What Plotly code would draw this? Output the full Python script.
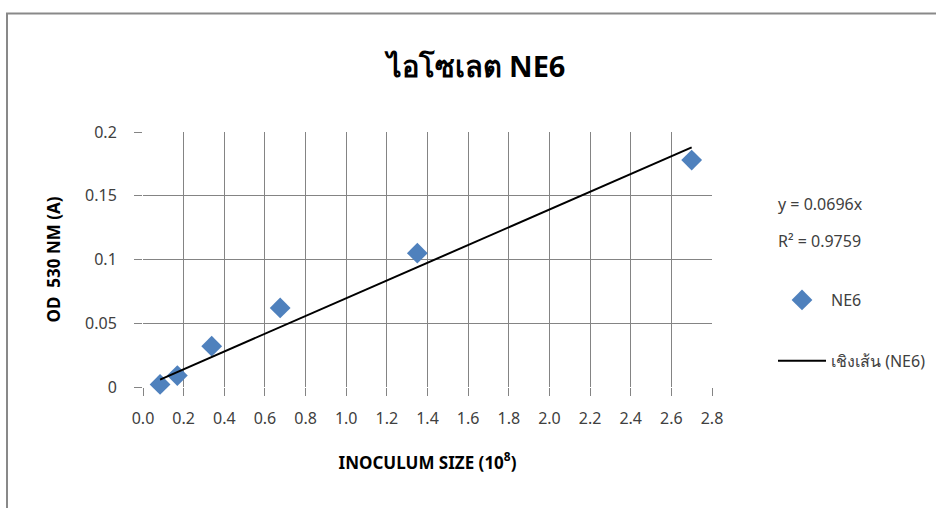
import numpy as np
import plotly.graph_objects as go

# Inoculum size (x 10^8 cells) and optical density at 530 nm
inoculum = [0.084, 0.169, 0.338, 0.675, 1.35, 2.7]
od530 = [0.002, 0.009, 0.032, 0.062, 0.105, 0.178]

# Linear trendline forced through the origin
slope = 0.0696
r_squared = 0.9759

x_ticks = [0.0, 0.2, 0.4, 0.6, 0.8, 1.0, 1.2, 1.4, 1.6, 1.8, 2.0, 2.2, 2.4, 2.6, 2.8]
y_ticks = [0, 0.05, 0.1, 0.15, 0.2]
y_tick_text = ["0", "0.05", "0.1", "0.15", "0.2"]

W, H = 936, 508
L, R, T, B = 143, 224, 132, 121
PW, PH = W - L - R, H - T - B


def px_x(x):
    return (x - L) / PW


def px_y(y):
    return (H - B - y) / PH


FONT = "Noto Sans, Open Sans, sans-serif"
GRID = "#848484"
TEXT = "#404040"

fit_x = np.array([min(inoculum), max(inoculum)])
fit_y = slope * fit_x

fig = go.Figure()
fig.add_trace(go.Scatter(
    x=inoculum, y=od530, mode="markers", name="NE6",
    marker=dict(symbol="diamond", size=16, color="#4f81bd"),
    legendgroup="a", cliponaxis=False,
))
fig.add_trace(go.Scatter(
    x=fit_x, y=fit_y, mode="lines", name="เชิงเส้น (NE6)",
    line=dict(color="black", width=2),
    legendgroup="b", cliponaxis=False,
))

fig.update_layout(
    width=W, height=H,
    margin=dict(l=L, r=R, t=T, b=B, autoexpand=False),
    paper_bgcolor="white", plot_bgcolor="white",
    font=dict(family=FONT, size=16, color=TEXT),
    title=dict(
        text="<b>ไอโซเลต NE6</b>",
        x=476 / W, xanchor="center", xref="container",
        y=1 - 67 / H, yanchor="middle", yref="container",
        font=dict(size=29, color="black", family=FONT),
    ),
    xaxis=dict(
        range=[0, 2.8], tickvals=x_ticks,
        ticktext=[f"{v:.1f}" for v in x_ticks],
        showgrid=True, gridcolor=GRID, gridwidth=1.2,
        ticks="outside", ticklen=8, tickcolor=GRID, tickwidth=1.2,
        showline=False, zeroline=False,
        ticklabelstandoff=9,
        tickfont=dict(size=16, color=TEXT),
        title=dict(text="<b>INOCULUM SIZE (10<sup>8</sup>)</b>",
                   font=dict(size=17, color="black"), standoff=28),
    ),
    yaxis=dict(
        range=[0, 0.2], tickvals=y_ticks, ticktext=y_tick_text,
        showgrid=True, gridcolor=GRID, gridwidth=1.2,
        ticks="outside", ticklen=8, tickcolor=GRID, tickwidth=1.2,
        showline=False, zeroline=False,
        ticklabelstandoff=14,
        tickfont=dict(size=16, color=TEXT),
        title=dict(text="<b>OD\u00a0\u00a0530 NM (A)</b>",
                   font=dict(size=17, color="black"), standoff=20),
    ),
    showlegend=True,
    legend=dict(
        x=px_x(773), xanchor="left",
        y=px_y(283), yanchor="top",
        traceorder="grouped", tracegroupgap=37,
        itemwidth=48,
        font=dict(size=16, color=TEXT),
        bgcolor="rgba(0,0,0,0)",
    ),
    shapes=[
        dict(type="rect", xref="paper", yref="paper",
             x0=px_x(7), x1=px_x(1000), y0=px_y(600), y1=px_y(13.5),
             line=dict(color="#898989", width=2), fillcolor="rgba(0,0,0,0)",
             layer="below"),
    ],
    annotations=[
        dict(text="y = 0.0696x", xref="paper", yref="paper",
             x=px_x(776), y=px_y(204), xanchor="left", yanchor="middle",
             showarrow=False, font=dict(size=16, color=TEXT)),
        dict(text=f"R² = {r_squared}", xref="paper", yref="paper",
             x=px_x(776), y=px_y(241), xanchor="left", yanchor="middle",
             showarrow=False, font=dict(size=16, color=TEXT)),
    ],
)

fig.write_html("out.html")
